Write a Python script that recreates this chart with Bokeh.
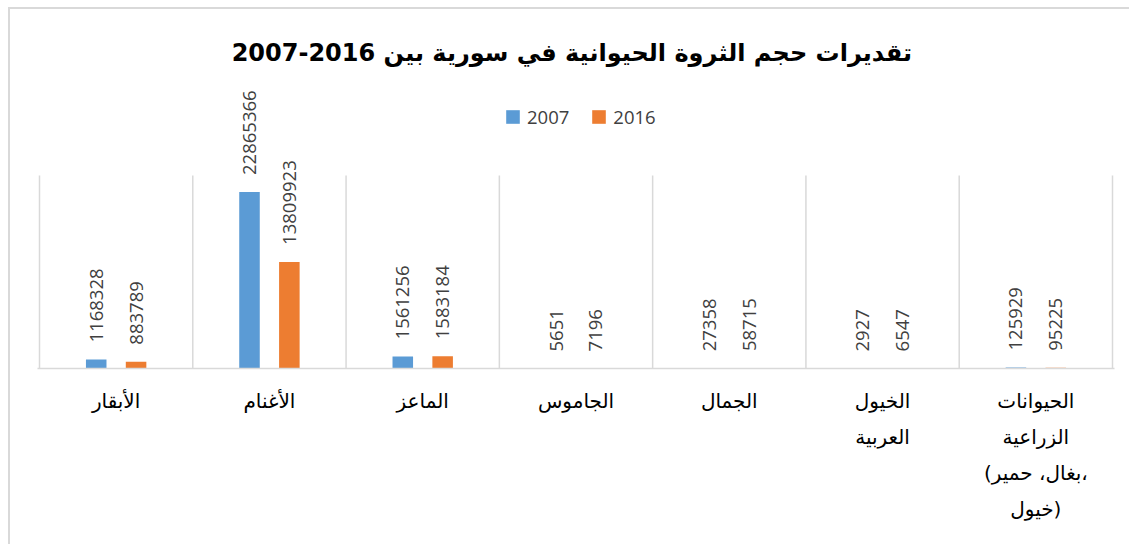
import math
from bokeh.plotting import figure
from bokeh.models import Range1d, FixedTicker, Legend, LegendItem
from bokeh.core.properties import value
from bokeh.embed import file_html
from bokeh.resources import INLINE

# ---------------- data ----------------
title_text = "تقديرات حجم الثروة الحيوانية في سورية بين  2016-2007"
categories = [
    "الأبقار",
    "الأغنام",
    "الماعز",
    "الجاموس",
    "الجمال",
    "الخيول\nالعربية",
    "الحيوانات\nالزراعية\n(بغال، حمير،\nخيول)",
]
series_names = ["2007", "2016"]
values_2007 = [1168328, 22865366, 1561256, 5651, 27358, 2927, 125929]
values_2016 = [883789, 13809923, 1583184, 7196, 58715, 6547, 95225]
axis_max = 25_000_000

# ---------------- layout ----------------
W, H = 1131, 546
OFF_X, OFF_Y = 10, 9            # css margin + chart-area border
cw, ch = W - OFF_X, H - OFF_Y
n = len(categories)
cat_px = (1112 - 39) / n
pad_px = 2
pad = pad_px / cat_px
frame_left = 39 - OFF_X - pad_px
frame_right = 1112 - OFF_X + pad_px
frame_top = 80 - OFF_Y
frame_bottom = 368 - OFF_Y
grid_px = 368 - 175
y_end = axis_max * (frame_bottom - frame_top) / grid_px

BLUE = "#5B9BD5"
ORANGE = "#ED7D31"
GRID = "#D9D9D9"
LABEL = "#404040"

p = figure(
    width=cw, height=ch, output_backend="svg", toolbar_location=None,
    x_range=Range1d(-pad, n + pad), y_range=Range1d(0, y_end),
    min_border_left=frame_left, min_border_right=cw - frame_right,
    min_border_top=frame_top, min_border_bottom=ch - frame_bottom,
)
p.margin = (7, 0, 0, 8)
p.styles = {"border-left": "2px solid #D9D9D9", "border-top": "2px solid #D9D9D9"}
p.outline_line_color = None
p.background_fill_color = "white"
p.border_fill_color = "white"

# title
p.title.text = title_text
p.title.align = "center"
p.title.text_font = "DejaVu Sans"
p.title.text_font_size = "24px"
p.title.text_font_style = "bold"
p.title.text_color = "#000000"
p.title.standoff = 28

# vertical category separators
bounds = list(range(n + 1))
p.segment(x0=bounds, y0=[0] * len(bounds), x1=bounds, y1=[axis_max] * len(bounds),
          line_color=GRID, line_width=1.5)

# bars
off = 0.13
bw = 0.134
x07 = [i + 0.5 - off for i in range(n)]
x16 = [i + 0.5 + off for i in range(n)]
r07 = p.vbar(x=x07, top=values_2007, width=bw, bottom=0, fill_color=BLUE, line_color=None)
r16 = p.vbar(x=x16, top=values_2016, width=bw, bottom=0, fill_color=ORANGE, line_color=None)

# data labels
for xs, vals in ((x07, values_2007), (x16, values_2016)):
    p.text(x=xs, y=vals, text=[str(v) for v in vals], angle=math.pi / 2,
           text_align="left", text_baseline="middle", y_offset=-17,
           text_font=value("Open Sans"), text_font_size="18.5px", text_color=LABEL)

# axes
p.yaxis.visible = False
p.xgrid.visible = False
p.ygrid.visible = False
ticks = [i + 0.5 for i in range(n)]
p.xaxis.ticker = FixedTicker(ticks=ticks)
p.xaxis.major_label_overrides = {t: c for t, c in zip(ticks, categories)}
p.xaxis.axis_line_color = GRID
p.xaxis.axis_line_width = 1.5
p.xaxis.major_tick_line_color = None
p.xaxis.minor_tick_line_color = None
p.xaxis.major_label_standoff = 14
p.xaxis.major_label_text_font = "DejaVu Sans"
p.xaxis.major_label_text_font_size = "20px"
p.xaxis.major_label_text_color = "#000000"
p.xaxis.major_label_text_line_height = 1.5

# legend
legend = Legend(
    items=[LegendItem(label=series_names[0], renderers=[r07]),
           LegendItem(label=series_names[1], renderers=[r16])],
    orientation="horizontal", location=(494 - frame_left, 239),
    padding=0, margin=0, spacing=21, label_standoff=6,
    glyph_width=17, glyph_height=17,
    label_text_font="Open Sans", label_text_font_size="18.5px", label_text_color=LABEL,
    border_line_color=None, background_fill_alpha=0,
)
p.add_layout(legend)

open("out.html", "w").write(file_html(p, INLINE))
